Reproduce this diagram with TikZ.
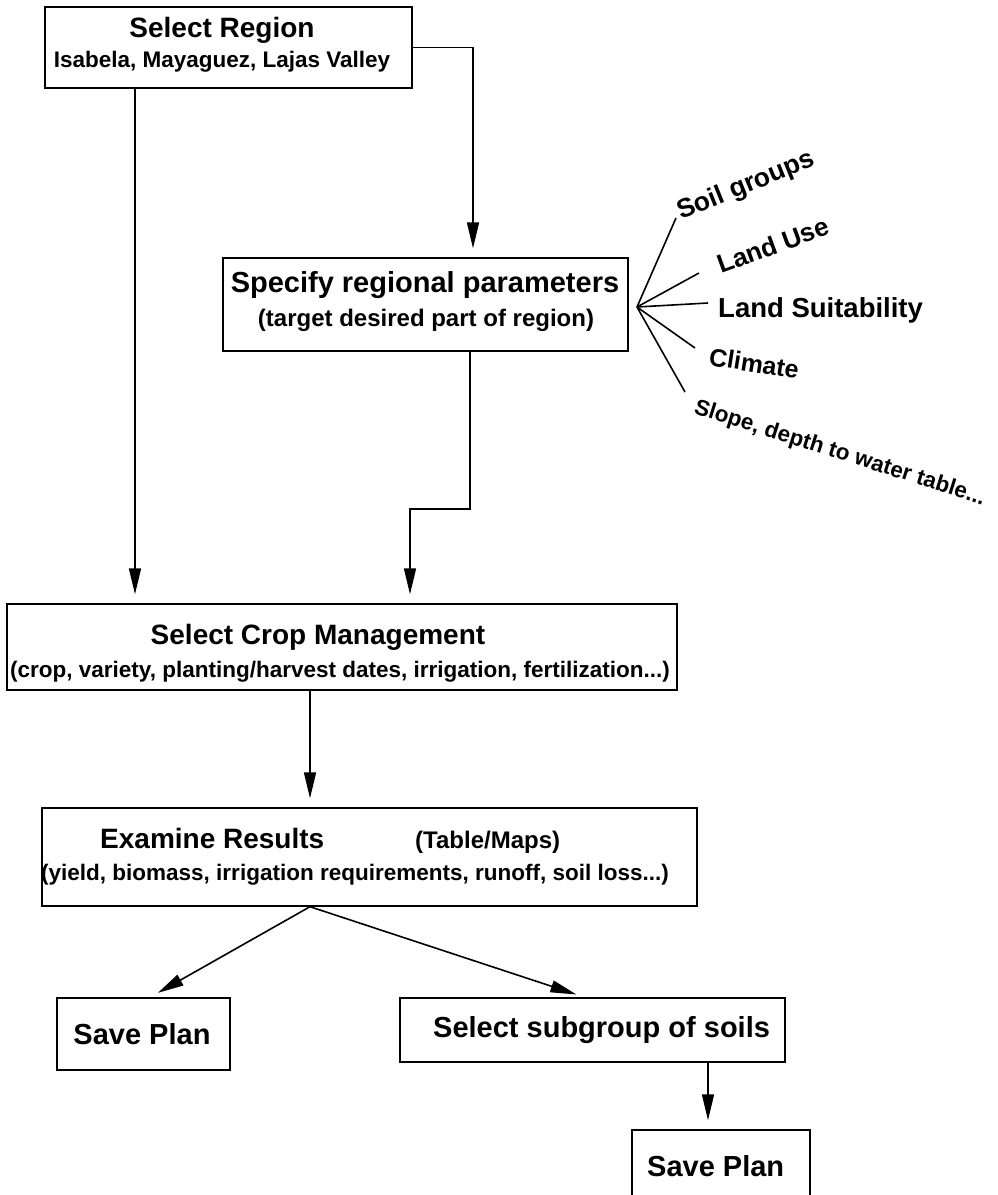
\documentclass[tikz,border=0pt]{standalone}
\usepackage{fontspec}
\setmainfont{Liberation Sans}
\usetikzlibrary{arrows.meta}
\begin{document}
\begin{tikzpicture}[x=1pt,y=-1pt,
  box/.style={draw, line width=1.4pt, inner sep=0pt},
  ttl/.style={font=\fontsize{28}{30}\selectfont\bfseries, inner sep=0pt},
  sub/.style={font=\fontsize{22.5}{24}\selectfont\bfseries, inner sep=0pt},
  lab/.style={inner sep=0pt, anchor=base west},
  conn/.style={line width=1.6pt},
  arr/.style={conn, -{Triangle[length=26pt,width=12pt]}, shorten >=9pt},
]
\useasboundingbox (0,0) rectangle (997,1195);
\fill[white] (0,0) rectangle (997,1195);

% boxes
\node[box, minimum width=367pt, minimum height=81pt] (region) at (228.5,47.5) {};
\node[ttl] (regionT) at (222,30) {Select Region};
\node[sub] (regionS) at (222,62) {Isabela, Mayaguez, Lajas Valley};

\node[box, minimum width=405pt, minimum height=93pt] (params) at (425.5,304.5) {};
\node[ttl, font=\fontsize{29}{31}\selectfont\bfseries] (paramsT) at (425,285) {Specify regional parameters};
\node[sub, font=\fontsize{24}{26}\selectfont\bfseries] (paramsS) at (426,320) {(target desired part of region)};

\node[box, minimum width=670pt, minimum height=86pt] (crop) at (342,647) {};
\node[ttl] (cropT) at (318,637) {Select Crop Management};
\node[sub] (cropS) at (340,672) {(crop, variety, planting/harvest dates, irrigation, fertilization...)};

\node[box, minimum width=655pt, minimum height=98pt] (exam) at (369.5,857) {};
\node[ttl, anchor=base west] (examT) at (100,848) {Examine Results};
\node[ttl, anchor=base west, font=\fontsize{24}{26}\selectfont\bfseries] (examM) at (415,848) {(Table/Maps)};
\node[sub] (examS) at (355,875) {(yield, biomass, irrigation requirements, runoff, soil loss...)};

\node[box, minimum width=173pt, minimum height=72pt] (saveA) at (143.5,1034) {};
\node[ttl, font=\fontsize{29}{31}\selectfont\bfseries] (saveAT) at (142,1034) {Save Plan};

\node[box, minimum width=385pt, minimum height=64pt] (subg) at (592.5,1030) {};
\node[ttl, anchor=west, font=\fontsize{29}{31}\selectfont\bfseries] (subgT) at (433,1030) {Select subgroup of soils};

\node[box, minimum width=178pt, minimum height=70pt] (saveB) at (721,1165) {};
\node[ttl, anchor=west, font=\fontsize{29}{31}\selectfont\bfseries] (saveBT) at (647,1166) {Save Plan};

% connectors
\draw[arr] (region.east) -| ([xshift=47.5pt]params.north);
\draw[arr] ([xshift=-93.5pt]region.south) -- ([xshift=-207pt]crop.north);
\draw[arr] ([xshift=44.5pt]params.south) -- ++(0,157) -| ([xshift=68pt]crop.north);
\draw[arr] ([xshift=-32pt]crop.south) -- ([xshift=-59.5pt]exam.north);
\coordinate (split) at ([xshift=-59.5pt]exam.south);
\draw[arr] (split) -- ([xshift=6.5pt]saveA.north);
\draw[arr] (split) -- ([xshift=-7.5pt]subg.north);
\draw[arr] ([xshift=115.5pt]subg.south) -- ([xshift=-13pt]saveB.north);

% fan of parameters
\coordinate (fan) at (637,307);
\coordinate (e1) at (676,218);
\coordinate (e2) at (699,273);
\coordinate (e3) at (708,303);
\coordinate (e4) at (695,348);
\coordinate (e5) at (685,392);
\draw[conn] (fan) -- (e1);
\draw[conn] (fan) -- (e2);
\draw[conn] (fan) -- (e3);
\draw[conn] (fan) -- (e4);
\draw[conn] (fan) -- (e5);
\node[lab, rotate=22, font=\fontsize{26.5}{28}\selectfont\bfseries] (soil) at (681,220) {Soil groups};
\node[lab, rotate=20, font=\fontsize{26}{28}\selectfont\bfseries] (use) at (721,274) {Land Use};
\node[lab, font=\fontsize{27.5}{29}\selectfont\bfseries] (suit) at (718,317) {Land Suitability};
\node[lab, rotate=-9, font=\fontsize{25}{27}\selectfont\bfseries] (clim) at (708,365) {Climate};
\node[lab, rotate=-17.6, font=\fontsize{22.4}{24}\selectfont\bfseries] (slope) at (693,413) {Slope, depth to water table...};
\end{tikzpicture}
\end{document}
